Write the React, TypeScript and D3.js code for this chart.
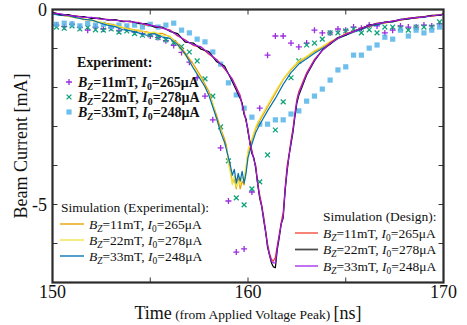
import React from "react";
import * as d3 from "d3";

// ---------- data ----------
const bzLabels = ["11mT", "22mT", "33mT"];
const i0Labels = ["265μA", "278μA", "248μA"];

const xTicksLabeled = [150, 160, 170];
const xTicksMinor = [155, 160, 165];
const yTicksLabeled = [0, -5];
const yTicksMinor = [-1, -2, -3, -4, -5, -6];

// Simulation (Experimental) curves
const simExpT = [
  150.0, 150.4, 150.8, 151.2, 151.6, 152.0, 152.4, 152.8, 153.2, 153.6, 154.0, 154.4, 154.8, 155.2, 155.6, 156.0, 156.4, 156.8, 157.2, 157.6,
  157.8, 158.0, 158.2, 158.4, 158.6, 158.8,
  158.9, 159.0, 159.1, 159.2, 159.3, 159.4, 159.5, 159.6, 159.7, 159.8, 159.9, 160.0,
  160.2, 160.4, 160.6,
  161.0, 161.4, 161.8, 162.2, 162.6, 163.0, 163.4, 163.8, 164.2, 164.6, 165.0, 165.4, 165.8, 166.2, 166.6, 167.0, 167.4, 167.8, 168.2, 168.6, 169.0, 169.4, 169.8, 170.0,
];
const simExpOrange = [
  -0.10, -0.14, -0.18, -0.19, -0.26, -0.27, -0.33, -0.36, -0.40, -0.47, -0.50, -0.55, -0.57, -0.62, -0.61, -0.70, -0.86, -1.12, -1.40, -1.72,
  -1.92, -2.10, -2.42, -2.72, -3.05, -3.32,
  -3.50, -3.85, -4.10, -4.45, -4.35, -4.60, -4.30, -4.60, -4.40, -4.50, -4.10, -3.70,
  -3.35, -3.05, -2.85,
  -2.50, -2.15, -1.80, -1.55, -1.35, -1.22, -1.08, -0.97, -0.84, -0.72, -0.65, -0.57, -0.49, -0.44, -0.37, -0.35, -0.30, -0.28, -0.23, -0.22, -0.18, -0.17, -0.13, -0.12,
];
const simExpYellow = [
  -0.12, -0.13, -0.17, -0.22, -0.23, -0.29, -0.31, -0.38, -0.41, -0.45, -0.53, -0.52, -0.60, -0.58, -0.66, -0.68, -0.92, -1.18, -1.48, -1.78,
  -2.00, -2.20, -2.40, -2.85, -3.10, -3.45,
  -3.55, -3.95, -4.20, -4.50, -4.25, -4.55, -4.40, -4.50, -4.30, -4.35, -4.00, -3.60,
  -3.30, -3.00, -2.80,
  -2.45, -2.10, -1.78, -1.52, -1.32, -1.20, -1.05, -0.95, -0.82, -0.73, -0.62, -0.55, -0.50, -0.41, -0.38, -0.32, -0.31, -0.26, -0.24, -0.20, -0.19, -0.15, -0.14, -0.12,
];
const simExpBlue = [
  -0.11, -0.15, -0.16, -0.21, -0.25, -0.27, -0.34, -0.40, -0.44, -0.52, -0.55, -0.60, -0.66, -0.62, -0.70, -0.74, -0.90, -1.15, -1.50, -1.82,
  -1.98, -2.20, -2.50, -2.80, -3.15, -3.40,
  -3.60, -3.80, -4.00, -4.25, -4.10, -4.45, -4.20, -4.40, -4.15, -4.45, -4.20, -3.80,
  -3.45, -3.15, -2.95,
  -2.60, -2.28, -1.92, -1.62, -1.40, -1.26, -1.12, -1.00, -0.88, -0.75, -0.66, -0.58, -0.52, -0.43, -0.40, -0.33, -0.32, -0.27, -0.24, -0.21, -0.20, -0.16, -0.15, -0.12,
];

// Simulation (Design) curves
const simDesT = [
  150.0, 150.4, 150.8, 151.2, 151.6, 152.0, 152.4, 152.8, 153.2, 153.6, 154.0, 154.4, 154.8, 155.2, 155.6, 156.0, 156.4, 156.8, 157.2, 157.6, 158.0, 158.4, 158.8, 159.2,
  159.6, 159.7, 159.8, 159.9, 160.0, 160.1, 160.2, 160.3, 160.4, 160.5, 160.6, 160.7, 160.8, 160.9, 161.0, 161.1, 161.2, 161.3, 161.4, 161.5, 161.6, 161.7, 161.8, 161.9, 162.0, 162.1, 162.2, 162.3, 162.4, 162.5, 162.6,
  163.0, 163.4, 163.8, 164.2, 164.6, 165.0, 165.4, 165.8, 166.2, 166.6, 167.0, 167.4, 167.8, 168.2, 168.6, 169.0, 169.4, 169.8, 170.0,
];
const simDesRed = [
  -0.08, -0.12, -0.15, -0.16, -0.20, -0.21, -0.24, -0.25, -0.28, -0.29, -0.32, -0.33, -0.40, -0.42, -0.48, -0.52, -0.68, -0.78, -0.92, -0.97, -1.15, -1.28, -1.52, -1.78,
  -2.20, -2.42, -2.62, -2.88, -3.05, -3.45, -3.60, -3.85, -4.00, -4.45, -4.75, -5.00, -5.30, -5.65, -6.00, -6.25, -6.40, -6.45, -6.35, -6.05, -5.75, -5.45, -5.20, -4.55, -4.00, -3.70, -3.35, -3.05, -2.65, -2.30, -2.10,
  -1.62, -1.28, -1.05, -0.85, -0.74, -0.62, -0.57, -0.47, -0.42, -0.35, -0.34, -0.29, -0.27, -0.22, -0.22, -0.18, -0.17, -0.14, -0.12,
];
const simDesBlack = [
  -0.07, -0.13, -0.13, -0.18, -0.18, -0.23, -0.22, -0.27, -0.26, -0.31, -0.30, -0.36, -0.36, -0.45, -0.45, -0.56, -0.62, -0.84, -0.86, -1.02, -1.08, -1.34, -1.45, -1.85,
  -2.28, -2.40, -2.70, -2.80, -3.15, -3.40, -3.70, -3.80, -4.10, -4.50, -4.85, -5.05, -5.40, -5.70, -6.10, -6.30, -6.50, -6.60, -6.62, -6.15, -5.85, -5.50, -5.35, -4.65, -4.15, -3.75, -3.45, -3.15, -2.75, -2.40, -2.20,
  -1.68, -1.32, -1.04, -0.89, -0.72, -0.66, -0.55, -0.49, -0.40, -0.37, -0.32, -0.31, -0.25, -0.24, -0.20, -0.19, -0.15, -0.15, -0.12,
];
const simDesPurple = [
  -0.09, -0.11, -0.15, -0.17, -0.20, -0.20, -0.24, -0.26, -0.27, -0.30, -0.31, -0.34, -0.38, -0.42, -0.47, -0.54, -0.66, -0.80, -0.90, -0.96, -1.12, -1.30, -1.50, -1.80,
  -2.24, -2.45, -2.65, -2.85, -3.10, -3.45, -3.65, -3.85, -4.05, -4.50, -4.80, -5.05, -5.35, -5.70, -6.05, -6.30, -6.45, -6.50, -6.50, -6.10, -5.80, -5.50, -5.30, -4.60, -4.10, -3.75, -3.40, -3.10, -2.70, -2.35, -2.15,
  -1.65, -1.30, -1.05, -0.87, -0.73, -0.64, -0.56, -0.48, -0.41, -0.36, -0.33, -0.30, -0.26, -0.23, -0.21, -0.19, -0.16, -0.14, -0.12,
];

// Experiment (markers)
const expT = [
  150.2, 150.6, 151.0, 151.4, 151.8, 152.2, 152.6, 153.0, 153.4, 153.8, 154.2, 154.6, 155.0, 155.4, 155.8, 156.2, 156.6, 157.0, 157.4, 157.8,
  158.2, 158.6, 159.0, 159.4, 159.8, 160.2, 160.6, 161.0, 161.4, 161.8, 162.2, 162.6, 163.0, 163.4, 163.8, 164.2, 164.6, 165.0, 165.4, 165.8,
  166.2, 166.6, 167.0, 167.4, 167.8, 168.2, 168.6, 169.0, 169.4, 169.8,
];
const exp11 = [
  -0.40, -0.44, -0.38, -0.46, -0.53, -0.45, -0.50, -0.47, -0.55, -0.50, -0.58, -0.62, -0.68, -0.72, -0.80, -0.92, -1.10, -1.35, -1.75, -2.22,
  -2.83, -3.55, -4.91, -6.22, -6.14, -4.68, -2.53, -1.17, -0.68, -0.68, -0.86, -0.96, -0.86, -0.53, -0.60, -0.60, -0.50, -0.53, -0.45, -0.48,
  -0.40, -0.42, -0.60, -0.53, -0.42, -0.45, -0.45, -0.40, -0.42, -0.37,
];
const exp22 = [
  -0.45, -0.48, -0.42, -0.50, -0.46, -0.52, -0.53, -0.50, -0.58, -0.55, -0.62, -0.66, -0.65, -0.72, -0.78, -0.85, -0.95, -1.09, -1.32, -1.78,
  -2.22, -3.01, -3.88, -4.83, -5.01, -4.60, -4.42, -3.73, -3.09, -2.37, -1.75, -1.32, -0.91, -0.86, -0.76, -0.60, -0.60, -0.55, -0.50, -0.60,
  -0.52, -0.60, -0.45, -0.45, -0.48, -0.53, -0.45, -0.45, -0.45, -0.32,
];
const exp33 = [
  -0.38, -0.35, -0.37, -0.42, -0.36, -0.40, -0.38, -0.43, -0.40, -0.42, -0.40, -0.45, -0.38, -0.45, -0.40, -0.35, -0.53, -0.60, -0.76, -0.83,
  -1.09, -1.40, -1.88, -2.19, -2.53, -2.76, -2.94, -2.94, -2.83, -2.83, -2.68, -2.60, -2.35, -2.22, -2.04, -1.81, -1.55, -1.47, -1.17, -1.17,
  -0.99, -0.91, -0.71, -0.76, -0.53, -0.68, -0.53, -0.60, -0.53, -0.45,
];

// ---------- styles ----------
const W = 467;
const H = 325;
const FONT = '"Liberation Serif", "Times New Roman", Times, serif';
const C_PURPLE_M = "#9A2BE0";
const C_GREEN_M = "#0FA37A";
const C_BLUE_M = "#56B4E9";

const simExpColors = ["#E69F00", "#F0E442", "#0072B2"];
const simDesColors = ["#F23A26", "#000000", "#9B1FE8"];

const x = d3.scaleLinear().domain([150, 170]).range([52.5, 443.5]);
const y = d3.scaleLinear().domain([-7, 0]).range([282.5, 9.5]);

function pathFor(ts: number[], vs: number[]) {
  const line = d3
    .line<number>()
    .x((_, i) => x(ts[i]))
    .y((d) => y(d));
  return line(vs) || "";
}

function Plus({ cx, cy, color }: { cx: number; cy: number; color: string }) {
  const s = 3;
  return (
    <path d={`M${cx - s},${cy}H${cx + s}M${cx},${cy - s}V${cy + s}`} stroke={color} strokeWidth={1.3} fill="none" />
  );
}
function Cross({ cx, cy, color }: { cx: number; cy: number; color: string }) {
  const s = 2.4;
  return (
    <path d={`M${cx - s},${cy - s}L${cx + s},${cy + s}M${cx - s},${cy + s}L${cx + s},${cy - s}`} stroke={color} strokeWidth={1.3} fill="none" />
  );
}
function Sq({ cx, cy, color }: { cx: number; cy: number; color: string }) {
  const s = 2.6;
  return <rect x={cx - s} y={cy - s} width={2 * s} height={2 * s} fill={color} fillOpacity={0.85} />;
}

function Label({ x0, y0, k, bold, size }: { x0: number; y0: number; k: number; bold?: boolean; size: number }) {
  return (
    <text x={x0} y={y0} style={{ fontFamily: FONT }} fontSize={size} fontWeight={bold ? "bold" : "normal"} fill="#111">
      <tspan fontStyle="italic">B</tspan>
      <tspan fontStyle="italic" fontSize={size * 0.7} dy={3}>Z</tspan>
      <tspan dy={-3}>{`=${bzLabels[k]}, `}</tspan>
      <tspan fontStyle="italic">I</tspan>
      <tspan fontSize={size * 0.7} dy={3}>0</tspan>
      <tspan dy={-3}>{`=${i0Labels[k]}`}</tspan>
    </text>
  );
}

export default function App() {
  const simExp = [simExpOrange, simExpYellow, simExpBlue];
  const simDes = [simDesRed, simDesBlack, simDesPurple];
  const exps = [exp11, exp22, exp33];
  const markerFns = [Plus, Cross, Sq];
  const markerColors = [C_PURPLE_M, C_GREEN_M, C_BLUE_M];

  const [x0, x1] = x.range();
  const [yb, yt] = y.range();
  const tf = { fontFamily: FONT };

  return (
    <svg width={W} height={H} style={{ position: "absolute", left: 0, top: 0, background: "#fff" }}>
      <defs>
        <clipPath id="plot">
          <rect x={x0} y={yt} width={x1 - x0} height={yb - yt} />
        </clipPath>
      </defs>
      <rect x={0} y={0} width={W} height={H} fill="#fff" />

      <g clipPath="url(#plot)">
        {exps.map((vals, si) => {
          const M = markerFns[si];
          return (
            <g key={"m" + si}>
              {vals.map((v, i) => (
                <M key={i} cx={x(expT[i])} cy={y(v)} color={markerColors[si]} />
              ))}
            </g>
          );
        })}
        {simExp.map((vals, si) => (
          <path key={"se" + si} d={pathFor(simExpT, vals)} fill="none" stroke={simExpColors[si]} strokeWidth={1.2} strokeLinejoin="round" />
        ))}
        {simDes.map((vals, si) => (
          <path key={"sd" + si} d={pathFor(simDesT, vals)} fill="none" stroke={simDesColors[si]} strokeWidth={1.2} strokeLinejoin="round" />
        ))}
      </g>

      {xTicksMinor.map((t) => (
        <g key={"xt" + t}>
          <line x1={x(t)} x2={x(t)} y1={yb} y2={yb - 5} stroke="#333" strokeWidth={1} />
          <line x1={x(t)} x2={x(t)} y1={yt} y2={yt + 5} stroke="#333" strokeWidth={1} />
        </g>
      ))}
      {yTicksMinor.map((t) => (
        <g key={"yt" + t}>
          <line x1={x0} x2={x0 + 5} y1={y(t)} y2={y(t)} stroke="#333" strokeWidth={1} />
          <line x1={x1} x2={x1 - 5} y1={y(t)} y2={y(t)} stroke="#333" strokeWidth={1} />
        </g>
      ))}

      <rect x={x0} y={yt} width={x1 - x0} height={yb - yt} fill="none" stroke="#2b2b2b" strokeWidth={2.2} />

      {xTicksLabeled.map((t) => (
        <text key={"xl" + t} x={x(t)} y={298} textAnchor="middle" style={tf} fontSize={18} fill="#111">
          {t}
        </text>
      ))}
      {yTicksLabeled.map((t) => (
        <text key={"yl" + t} x={47} y={y(t) + 6} textAnchor="end" style={tf} fontSize={18} fill="#111">
          {t}
        </text>
      ))}

      <text x={(x0 + x1) / 2} y={319} textAnchor="middle" style={tf} fontSize={18} fill="#111">
        Time<tspan fontSize={13.5}> (from Applied Voltage Peak) </tspan>[ns]
      </text>
      <text transform={`translate(27,${(yt + yb) / 2}) rotate(-90)`} textAnchor="middle" style={tf} fontSize={18} fill="#111">
        Beam Current [mA]
      </text>

      <text x={77} y={67} style={tf} fontSize={14} fontWeight="bold" fill="#111">
        Experiment:
      </text>
      {[0, 1, 2].map((k) => {
        const M = markerFns[k];
        const cy = 82 + k * 15;
        return (
          <g key={"el" + k}>
            <M cx={69} cy={cy} color={markerColors[k]} />
            <Label x0={78} y0={cy + 4.5} k={k} bold size={14} />
          </g>
        );
      })}

      <text x={61} y={212} style={tf} fontSize={13.5} fill="#111">
        Simulation (Experimental):
      </text>
      {[0, 1, 2].map((k) => {
        const cy = 224 + k * 16;
        return (
          <g key={"sl" + k}>
            <line x1={60} x2={84} y1={cy} y2={cy} stroke={simExpColors[k]} strokeWidth={1.6} strokeOpacity={0.85} />
            <Label x0={89} y0={cy + 4.5} k={k} size={13.5} />
          </g>
        );
      })}

      <text x={323} y={221} style={tf} fontSize={13.5} fill="#111">
        Simulation (Design):
      </text>
      {[0, 1, 2].map((k) => {
        const cy = 233 + k * 16.5;
        return (
          <g key={"dl" + k}>
            <line x1={295} x2={318} y1={cy} y2={cy} stroke={simDesColors[k]} strokeWidth={1.8} strokeOpacity={0.7} />
            <Label x0={323} y0={cy + 4.5} k={k} size={13.5} />
          </g>
        );
      })}
    </svg>
  );
}
